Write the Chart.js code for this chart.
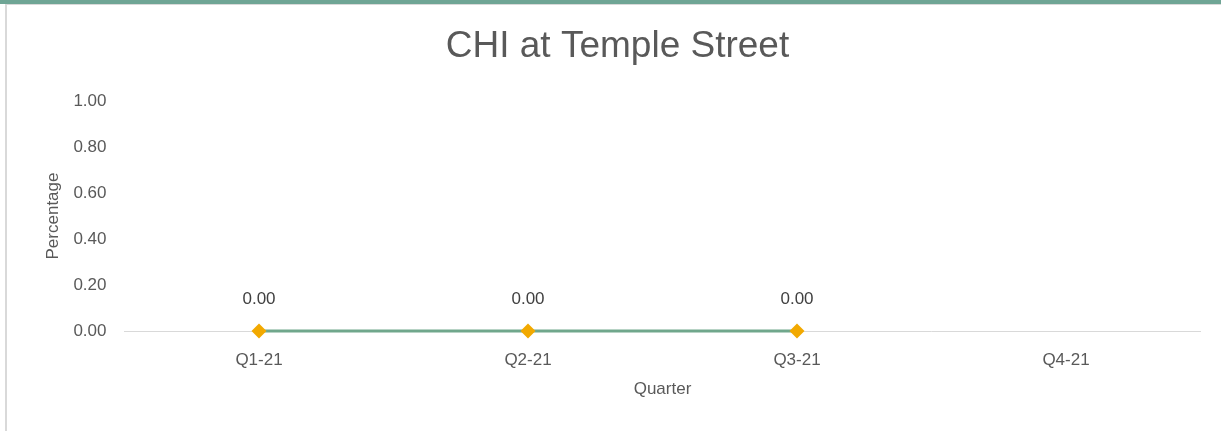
<!DOCTYPE html>
<html>
<head>
<meta charset="utf-8">
<script src="https://cdn.jsdelivr.net/npm/chart.js@4/dist/chart.umd.min.js"></script>
<style>
  html, body { margin: 0; padding: 0; background: #fff; }
  .topbar { height: 4px; background: #6fa595; }
  .frame { margin-left: 5px; border-top: 1px solid #d9d9d9; border-left: 2px solid #d9d9d9; }
  .chart-wrap { position: relative; width: 1214px; height: 426px; }
</style>
</head>
<body>
<div class="topbar"></div>
<div class="frame">
  <div class="chart-wrap"><canvas id="chart"></canvas></div>
</div>
<script>
const quarters = ['Q1-21', 'Q2-21', 'Q3-21', 'Q4-21'];
const chiValues = [0, 0, 0, null];
const yTicks = [0, 0.2, 0.4, 0.6, 0.8, 1.0];

const FONT = "'Liberation Sans', Arial, sans-serif";
const TEXT = '#595959';

// draws the "0.00" labels above each point
const valueLabels = {
  id: 'valueLabels',
  afterDatasetsDraw(chart) {
    const { ctx } = chart;
    const meta = chart.getDatasetMeta(0);
    ctx.save();
    ctx.font = `17px ${FONT}`;
    ctx.fillStyle = '#404040';
    ctx.textAlign = 'center';
    ctx.textBaseline = 'middle';
    meta.data.forEach((pt, i) => {
      const v = chiValues[i];
      if (v === null || v === undefined) return;
      ctx.fillText(v.toFixed(2), pt.x, pt.y - 32);
    });
    ctx.restore();
  },
};

new Chart(document.getElementById('chart'), {
  type: 'line',
  data: {
    labels: quarters,
    datasets: [{
      label: 'CHI',
      data: chiValues,
      borderColor: '#70a78c',
      borderWidth: 3,
      pointStyle: 'rectRot',
      pointRadius: 7.5,
      pointBackgroundColor: '#f2a900',
      pointBorderColor: '#f2a900',
      pointBorderWidth: 0,
      tension: 0,
      spanGaps: false,
      clip: false,
    }],
  },
  options: {
    responsive: true,
    maintainAspectRatio: false,
    animation: false,
    layout: { padding: { left: 7, right: 0, top: 0, bottom: 0 } },
    plugins: {
      legend: { display: false },
      tooltip: { enabled: false },
      title: {
        display: true,
        text: 'CHI at Temple Street',
        color: TEXT,
        font: { family: FONT, size: 37, weight: 'normal', lineHeight: 1.2 },
        padding: { top: 20, bottom: 31.6 },
      },
    },
    scales: {
      x: {
        offset: true,
        grid: { display: false, drawTicks: false },
        border: { display: true, color: '#d9d9d9', width: 1 },
        ticks: { color: TEXT, padding: 19, font: { family: FONT, size: 17, lineHeight: 1.2 } },
        title: {
          display: true,
          text: 'Quarter',
          color: TEXT,
          font: { family: FONT, size: 17, lineHeight: 1.2 },
          padding: { top: 0, bottom: 31 },
        },
        afterFit(scale) {
          scale.height = 100;
          scale.paddingRight = 20.5;
        },
      },
      y: {
        min: 0,
        max: 1,
        afterBuildTicks(scale) { scale.ticks = yTicks.map((v) => ({ value: v })); },
        grid: { display: false, drawTicks: false },
        border: { display: false },
        ticks: {
          color: TEXT,
          padding: 18,
          font: { family: FONT, size: 17, lineHeight: 1.2 },
          callback: (v) => Number(v).toFixed(2),
        },
        title: {
          display: true,
          text: 'Percentage',
          color: TEXT,
          font: { family: FONT, size: 17, lineHeight: 1.2 },
          padding: { top: 29, bottom: 0 },
        },
        afterFit(scale) { scale.width = 110.5; },
      },
    },
  },
  plugins: [valueLabels],
});
</script>
</body>
</html>
